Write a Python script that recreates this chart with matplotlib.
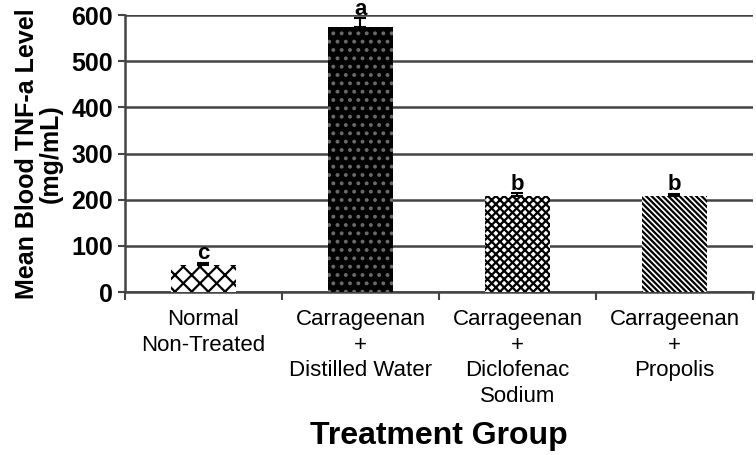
import numpy as np
import matplotlib
matplotlib.use('Agg')
import matplotlib.pyplot as plt

plt.rcParams['font.family'] = ['Liberation Sans', 'DejaVu Sans']
plt.rcParams['hatch.linewidth'] = 1.6

groups = ['Normal\nNon-Treated', 'Carrageenan\n+\nDistilled Water',
          'Carrageenan\n+\nDiclofenac\nSodium', 'Carrageenan\n+\nPropolis']
tnf = [58, 574, 208, 208]
err = [5, 19, 6, 5]
letters = ['c', 'a', 'b', 'b']

# face, hatch colour, hatch pattern
styles = [('white', 'black', 'xx'),
          ('black', '#6a6a6a', '..'),
          ('white', 'black', 'xxxx'),
          ('white', 'black', '\\\\\\\\\\\\')]

fig = plt.figure(figsize=(7.56, 4.55), dpi=100)
ax = fig.add_axes([0.1653, 0.358, 0.8307, 0.609])

x = np.arange(len(groups))
for i in range(len(groups)):
    face, hc, hatch = styles[i]
    ax.bar(x[i], tnf[i], width=0.41, color=face, edgecolor=hc,
           hatch=hatch, linewidth=0, zorder=3)
    ax.errorbar(x[i], tnf[i], yerr=[[0], [err[i]]], fmt='none',
                ecolor='black', elinewidth=1.5, capsize=4, capthick=1.5,
                zorder=4)
    ax.annotate(letters[i], (x[i], tnf[i] + err[i]), xytext=(0, -1),
                textcoords='offset points', ha='center', va='bottom',
                fontsize=16, fontweight='bold', annotation_clip=False)

ax.set_xlim(-0.5, 3.5)
ax.set_ylim(0, 600)
ax.set_yticks(np.arange(0, 601, 100))
ax.yaxis.grid(True, color='#444444', linewidth=1.8)
ax.set_axisbelow(True)

ax.set_xticks(x)
ax.set_xticklabels(groups, fontsize=16, linespacing=1.3)
ax.tick_params(axis='x', which='major', length=0, pad=12)
ax.set_xticks(np.arange(-0.5, 4, 1), minor=True)
ax.tick_params(axis='x', which='minor', length=6, width=1.5, color='#444444')
ax.tick_params(axis='y', length=5, width=1.5, color='#444444', labelsize=18)
for lab in ax.get_yticklabels():
    lab.set_fontweight('bold')

for s in ['top', 'right']:
    ax.spines[s].set_visible(False)
for s in ['left', 'bottom']:
    ax.spines[s].set_color('#444444')
    ax.spines[s].set_linewidth(1.8)

ax.set_ylabel('Mean Blood TNF-a Level\n(mg/mL)', fontsize=18,
              fontweight='bold', linespacing=1.0, labelpad=6)
ax.set_xlabel('Treatment Group', fontsize=23, fontweight='bold', labelpad=10)

fig.savefig('out.png', dpi=100)
